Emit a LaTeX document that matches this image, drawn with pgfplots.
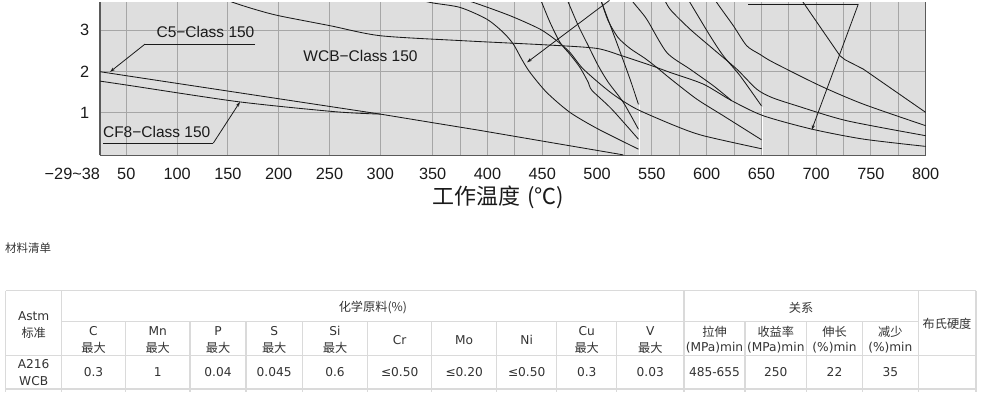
\documentclass[border=0pt]{standalone}
\usepackage{fontspec}
\setmainfont{Liberation Sans}
\newfontfamily\cjk{Noto Sans CJK SC}
\newfontfamily\tbl{DejaVu Sans}
\usepackage{pgfplots}
\pgfplotsset{compat=1.18}
\usetikzlibrary{arrows.meta}
\definecolor{bggray}{HTML}{DEDEDE}
\definecolor{gridgray}{HTML}{A6A6A6}
\definecolor{axisgray}{HTML}{5A5A5A}
\definecolor{tblline}{HTML}{DADADA}
\definecolor{tbltext}{HTML}{333333}
\definecolor{ink}{HTML}{1A1A1A}
\tikzset{
  crv/.style={ink, line width=0.85pt, line join=round, line cap=round},
  sm/.style={crv, smooth, tension=0.45},
  ann/.style={ink, line width=0.8pt},
}
\newcommand\lbl{\fontsize{15.5}{17}\selectfont}
\newcommand\tk{\fontsize{16.3}{18}\selectfont}
\newcommand\tf{\tbl\fontsize{12.2}{14}\selectfont}
\newcommand\cf{\cjk\fontsize{12.2}{14}\selectfont}
\begin{document}
\begin{tikzpicture}
\begin{scope}[x=1pt,y=-1pt]
\useasboundingbox (0,0) rectangle (983,388);
\end{scope}
\begin{axis}[
  at={(100pt,-153pt)}, anchor=south west,
  scale only axis, width=825.7pt, height=153pt,
  x coord trafo/.code={\pgfmathparse{100+2.19167*(min(#1,50)-38)+1.016*(max(min(#1,300),50)-50)+1.048*(max(min(#1,350),300)-300)+1.0956*(max(#1,350)-350)}},
  xmin=38, xmax=800, ymin=-0.034, ymax=3.671,
  axis x line=bottom, axis y line=box,
  axis line style={draw=axisgray, line width=1.4pt, -},
  x axis line style={-}, y axis line style={-},
  axis background/.style={fill=bggray},
  xtick={38,50,100,150,200,250,300,350,400,450,500,550,600,650,700,750,800},
  minor xtick={375,425,475,525,575,625,675,725,775},
  xticklabels={\makebox[0pt][r]{−29\textasciitilde 38},50,100,150,200,250,300,350,400,450,500,550,600,650,700,750,800},
  ytick={1,2,3}, yticklabels={1,2,3},
  grid=both,
  major grid style={gridgray, line width=0.9pt},
  minor grid style={gridgray, line width=0.9pt},
  major tick length=0pt, minor tick length=0pt,
  xticklabel style={font=\tk, text=ink, anchor=north, inner sep=0pt, yshift=-12.5pt},
  yticklabel style={font=\tk, text=ink, anchor=east, inner sep=0pt, xshift=-10.7pt},
  clip=true,
]
% white gaps below curve ends
\draw[white, line width=1.3pt] (axis cs:538.5,1.18) -- (axis cs:538.5,-0.03);
\draw[white, line width=1.3pt] (axis cs:650.8,1.14) -- (axis cs:650.8,-0.03);
% C5-Class 150
\addplot[crv] coordinates {(38,1.993)(50,1.896)(300,0.966)(350,0.758)(393.2,0.571)(457.1,0.281)(523.7,-0.02)};
% CF8-Class 150
\addplot[sm] coordinates {(38,1.765)(50,1.671)(160.2,1.266)(255.4,1.024)(300,0.966)};
% WCB curve
\addplot[sm] coordinates {(122.5,3.961)(155.0,3.671)(176.7,3.501)(200.0,3.349)(250.5,3.107)(300,2.864)(377.7,2.743)(457.1,2.637)(499.7,2.557)(522.5,2.380)(549.9,2.138)(566.6,1.976)(597.0,1.692)(622.9,1.291)(651.7,0.927)(695.9,0.603)(743.0,0.361)(800,0.184)};
% curves ending at 538
\addplot[sm] coordinates {(318.8,3.864)(347.4,3.671)(374.9,3.550)(399.3,3.266)(414.4,2.944)(423.6,2.661)(431.2,2.298)(438.8,1.976)(454.0,1.492)(475.3,1.007)(501.1,0.603)(537.7,0.119)};
\addplot[sm] coordinates {(443.4,4.034)(449.5,3.671)(457.1,3.186)(466.2,2.702)(475.3,2.412)(484.4,2.097)(492.0,1.734)(495.4,1.540)(513.4,1.087)(537.7,0.361)};
\addplot[sm] coordinates {(466.2,4.155)(473.8,3.671)(482.9,3.107)(492.0,2.622)(501.1,2.138)(510.3,1.734)(524.0,1.249)(537.7,0.603)};
\addplot[sm] coordinates {(499.0,4.034)(504.2,3.671)(517.9,2.702)(530.1,1.814)(537.7,1.208)};
% curves ending at 650
\addplot[sm] coordinates {(356.7,3.913)(387.1,3.671)(420.6,3.349)(447.9,3.024)(463.2,2.743)(475.3,2.460)(486.0,2.097)(501.1,1.734)(516.4,1.412)(536.2,1.087)(571.1,0.685)(597.0,0.443)(650,0.128)};
\addplot[sm] coordinates {(499.0,4.034)(504.2,3.671)(510.0,3.235)(519.1,2.823)(530.1,2.557)(543.8,2.315)(555.6,2.073)(566.6,1.831)(591.0,1.329)(615.2,0.927)(650,0.346)};
\addplot[sm] coordinates {(579.4,3.913)(584.8,3.671)(603.1,2.864)(615.2,2.380)(630.5,1.896)(650,1.169)};
\addplot[sm] coordinates {(525.5,3.961)(533.1,3.671)(545.3,3.266)(563.6,2.460)(584.8,2.056)(606.1,1.654)(622.9,1.291)};
% curves ending at 800
\addplot[sm] coordinates {(559.3,3.864)(566.6,3.508)(584.8,3.024)(606.1,2.540)(627.5,2.056)(645.7,1.571)(659.4,1.370)(682.2,1.169)(727.9,0.806)(800,0.443)};
\addplot[sm] coordinates {(603.1,3.961)(609.2,3.671)(624.4,3.107)(636.6,2.622)(648.7,2.412)(660.9,2.218)(703.5,1.654)(743.0,1.208)(800,0.685)};
\addplot[crv] coordinates {(682.5,3.913)(688.2,3.671)(721.7,2.380)(726.3,2.283)(743.0,2.056)(800,1.007)};
\end{axis}
\begin{scope}[x=1pt,y=-1pt]
% annotations
\node[font=\lbl, text=ink, inner sep=0pt] at (205.5,30) {C5−Class 150};
\draw[ann] (255,41.7) -- (145,41.7);
\draw[ann, -{Stealth[length=5pt,width=3.2pt]}] (145,41.7) -- (110,69.5);
\node[font=\lbl, text=ink, inner sep=0pt] at (156.7,130) {CF8−Class 150};
\draw[ann] (103.3,140.7) -- (213.3,140.7);
\draw[ann, -{Stealth[length=5pt,width=3.2pt]}] (213.3,140.7) -- (240,99.5);
\node[font=\lbl, text=ink, inner sep=0pt] at (360.5,53.3) {WCB−Class 150};
\draw[ann, -{Stealth[length=5pt,width=3.2pt]}] (609.5,-2) -- (527,60);
\draw[ann] (748.3,1.7) -- (858.3,1.7);
\draw[ann, -{Stealth[length=5pt,width=3.2pt]}] (858.3,1.7) -- (811.7,127.5);
% axis title
\node[font=\cjk\fontsize{22}{24}\selectfont, text=ink, inner sep=0pt] at (498.5,195) {工作温度\hspace{7pt}(℃)};
% list title
\node[font=\cjk\fontsize{11.5}{13}\selectfont, text=tbltext, inner sep=0pt, anchor=west] at (5,246) {材料清单};
% table
\begin{scope}[tblline, line width=1.3pt]
\draw (5.7,288.3) -- (976,288.3);
\draw (61.7,319.3) -- (918.3,319.3);
\draw (5.7,353.3) -- (976,353.3);
\draw (5.7,386.5) -- (976,386.5);
\foreach \x in {5.7,61.7,684,918.3,976} \draw (\x,288.3) -- (\x,390);
\foreach \x in {125.3,190,246,302.3,367.7,431.7,496.7,556.7,616.7,745,806.7,862.3} \draw (\x,319.3) -- (\x,390);
\end{scope}
\begin{scope}[every node/.style={text=tbltext, inner sep=0pt}]
\node[font=\tf] at (33.7,313.7) {Astm};
\node[font=\cf] at (33.7,330) {标准};
\node[font=\cf] at (372.9,305) {化学原料(\%)};
\node[font=\cf] at (801,305) {关系};
\node[font=\cf] at (947,321.7) {布氏硬度};
\foreach \x/\t in {93.5/C,157.7/Mn,218/P,274.2/S,335/Si,586.7/Cu,650.3/V} {
  \node[font=\tf] at (\x,329) {\t};
  \node[font=\cf] at (\x,345) {最大};
}
\foreach \x/\t in {399.7/Cr,464.2/Mo,526.7/Ni} \node[font=\tf] at (\x,337.5) {\t};
\node[font=\cf] at (714.5,329) {拉伸};
\node[font=\tf] at (714.5,345) {(MPa)min};
\node[font=\cf] at (775.8,329) {收益率};
\node[font=\tf] at (775.8,345) {(MPa)min};
\node[font=\cf] at (834.5,329) {伸长};
\node[font=\tf] at (834.5,345) {(\%)min};
\node[font=\cf] at (890.3,329) {减少};
\node[font=\tf] at (890.3,345) {(\%)min};
\node[font=\tf] at (33.7,361.7) {A216};
\node[font=\tf] at (33.7,379) {WCB};
\foreach \x/\t in {93.5/0.3,157.7/1,218/0.04,274.2/0.045,335/0.6,399.7/≤0.50,464.2/≤0.20,526.7/≤0.50,586.7/0.3,650.3/0.03,714.5/485-655,775.8/250,834.5/22,890.3/35}
  \node[font=\tf] at (\x,370) {\t};
\end{scope}
\end{scope}
\end{tikzpicture}
\end{document}
